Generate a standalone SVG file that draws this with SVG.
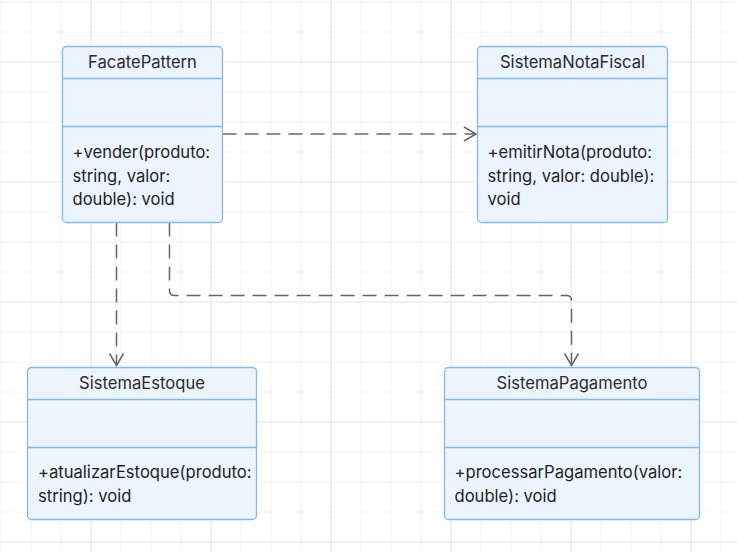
<svg xmlns="http://www.w3.org/2000/svg" width="737" height="552" viewBox="0 0 737 552">
  <style>
    .box { fill: #ecf4fe; stroke: #84b9f3; stroke-width: 1.3; }
    .div { stroke: #84b9f3; stroke-width: 1.3; }
    .title { font-family: Inter, "Noto Sans", sans-serif; font-size: 16.6px; fill: #2b2b2b; text-anchor: middle; }
    .member { font-family: Inter, "Noto Sans", sans-serif; font-size: 16.6px; fill: #1f1f1f; }
    .edge { fill: none; stroke: #666; stroke-width: 1.5; stroke-dasharray: 14 8; }
  </style>
  <defs>
    <pattern id="minor" patternUnits="userSpaceOnUse" x="0.5" y="1.5" width="30" height="30">
      <path d="M0 0V30M0 0H30" fill="none" stroke="#e8e8e8" stroke-width="1"/>
    </pattern>
    <pattern id="major" patternUnits="userSpaceOnUse" x="90.5" y="61.5" width="120" height="120">
      <path d="M0 0V120M0 0H120" fill="none" stroke="#dadada" stroke-width="1"/>
    </pattern>
    <marker id="arrow" markerWidth="16" markerHeight="18" refX="13" refY="8" orient="auto" markerUnits="userSpaceOnUse">
      <path d="M1 1L13 8L1 15" fill="none" stroke="#666" stroke-width="1.5"/>
    </marker>
  </defs>
  <rect width="737" height="552" fill="#ffffff"/>
  <rect width="737" height="552" fill="url(#minor)"/>
  <rect width="737" height="552" fill="url(#major)"/>

  <g id="connectors">
    <path class="edge" d="M222.5 134H476" marker-end="url(#arrow)"/>
    <path class="edge" d="M116.5 222.5V365.5" marker-end="url(#arrow)"/>
    <path class="edge" d="M169.5 222.5V290.5Q169.5 295.5 174.5 295.5H566.5Q571.5 295.5 571.5 300.5V365.5" marker-end="url(#arrow)"/>
  </g>

  <g id="FacatePattern">
    <rect class="box" x="62.5" y="46.5" width="160" height="176" rx="4"/>
    <line class="div" x1="62.5" y1="78.5" x2="222.5" y2="78.5"/>
    <line class="div" x1="62.5" y1="126.5" x2="222.5" y2="126.5"/>
    <text class="title" x="142.5" y="68">FacatePattern</text>
    <text class="member" x="72.5" y="158">+vender(produto:</text>
    <text class="member" x="72.5" y="182">string, valor:</text>
    <text class="member" x="72.5" y="205">double): void</text>
  </g>

  <g id="SistemaNotaFiscal">
    <rect class="box" x="477.5" y="46.5" width="190" height="176" rx="4"/>
    <line class="div" x1="477.5" y1="78.5" x2="667.5" y2="78.5"/>
    <line class="div" x1="477.5" y1="126.5" x2="667.5" y2="126.5"/>
    <text class="title" x="572.5" y="68">SistemaNotaFiscal</text>
    <text class="member" x="487.5" y="158">+emitirNota(produto:</text>
    <text class="member" x="487.5" y="182">string, valor: double):</text>
    <text class="member" x="487.5" y="205">void</text>
  </g>

  <g id="SistemaEstoque">
    <rect class="box" x="27.5" y="367.5" width="229" height="152" rx="4"/>
    <line class="div" x1="27.5" y1="399.5" x2="256.5" y2="399.5"/>
    <line class="div" x1="27.5" y1="447.5" x2="256.5" y2="447.5"/>
    <text class="title" x="142" y="389">SistemaEstoque</text>
    <text class="member" x="38" y="478">+atualizarEstoque(produto:</text>
    <text class="member" x="38" y="502">string): void</text>
  </g>

  <g id="SistemaPagamento">
    <rect class="box" x="444.5" y="367.5" width="255" height="152" rx="4"/>
    <line class="div" x1="444.5" y1="399.5" x2="699.5" y2="399.5"/>
    <line class="div" x1="444.5" y1="447.5" x2="699.5" y2="447.5"/>
    <text class="title" x="572" y="389">SistemaPagamento</text>
    <text class="member" x="454.5" y="478">+processarPagamento(valor:</text>
    <text class="member" x="454.5" y="502">double): void</text>
  </g>
</svg>
